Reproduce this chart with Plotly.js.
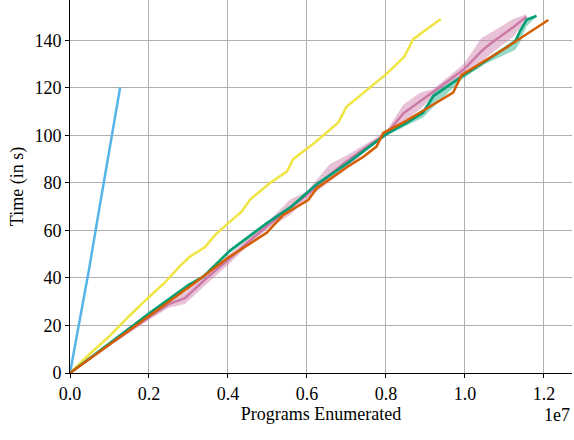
<!DOCTYPE html>
<html>
<head>
<meta charset="utf-8">
<script src="https://cdn.plot.ly/plotly-3.0.1.min.js"></script>
<style>html,body{margin:0;padding:0;background:#fff;}#chart{width:574px;height:440px;}</style>
</head>
<body>
<div id="chart"></div>
<script>
// x values in units of 1e7 programs enumerated, y in seconds
const blueX = [0, 0.025, 0.048, 0.075, 0.100, 0.127];
const blueY = [0, 22, 43.5, 70, 95, 120.3];

const yellowX = [0, 0.05, 0.10, 0.15, 0.20, 0.24, 0.278, 0.304, 0.342, 0.367, 0.40, 0.435, 0.456, 0.506, 0.549, 0.565, 0.62, 0.679, 0.700, 0.75, 0.802, 0.846, 0.869, 0.939];
const yellowY = [0, 8, 15.5, 24, 32, 38, 45, 49, 53, 58, 63, 68, 73, 80, 84.8, 90, 97, 105.4, 112, 119, 126, 133, 140.5, 149];

const greenX = [0, 0.10, 0.20, 0.30, 0.337, 0.405, 0.498, 0.56, 0.625, 0.70, 0.80, 0.85, 0.894, 0.920, 0.992, 1.05, 1.127, 1.139, 1.156, 1.181];
const greenY = [0, 12.5, 25, 37, 40.5, 51.5, 63, 70, 79.5, 88, 100.5, 105, 109.5, 116.5, 124.8, 131, 139.5, 143.7, 148.6, 150.3];
const greenUp = [0, 13, 25.8, 37.8, 41.3, 52.3, 63.8, 70.8, 80.3, 88.8, 101.3, 106, 111, 118, 125.6, 131.8, 140.5, 145, 149.5, 150.8];
const greenLo = [0, 12, 24.2, 36.2, 39.7, 50.7, 62.2, 69.2, 78.7, 87.2, 99.7, 104, 107.5, 112, 123.5, 130, 136, 139, 146, 149.8];

const pinkX = [0, 0.10, 0.20, 0.25, 0.291, 0.346, 0.40, 0.45, 0.50, 0.557, 0.60, 0.658, 0.70, 0.75, 0.80, 0.844, 0.886, 0.920, 0.996, 1.042, 1.063, 1.122, 1.156];
const pinkY = [0, 12, 23.5, 29, 31.5, 40, 47.5, 55, 62, 69.5, 75, 83.5, 89, 95, 100.5, 109.3, 114.2, 118.4, 127.6, 135.5, 138.5, 145.5, 150];
const pinkUp = [0, 12.6, 24.6, 30.5, 34, 42.5, 49.5, 56.5, 63.5, 73, 76.5, 88, 91.5, 96.5, 101.5, 113, 118, 119.5, 130, 141, 143, 149, 151];
const pinkLo = [0, 11.4, 22.4, 27.5, 29, 37.5, 45.5, 53.5, 60.5, 66.5, 73.5, 80.5, 86, 93.5, 99.5, 105.5, 111, 116.5, 125.5, 131, 134, 141.5, 148.5];

const orangeX = [0, 0.10, 0.20, 0.30, 0.40, 0.447, 0.498, 0.540, 0.603, 0.625, 0.70, 0.743, 0.776, 0.793, 0.85, 0.90, 0.970, 0.992, 1.10, 1.211];
const orangeY = [0, 12, 24, 36, 48.5, 53.5, 59, 66.5, 72.8, 77.8, 86.5, 91, 95.3, 101, 106, 111, 118, 125.5, 136.5, 148.6];

const xTicks = [0, 0.2, 0.4, 0.6, 0.8, 1.0, 1.2];
const xTickText = ['0.0', '0.2', '0.4', '0.6', '0.8', '1.0', '1.2'];
const yTicks = [0, 20, 40, 60, 80, 100, 120, 140];

const C = {blue:'#56B4E9', yellow:'#F0E442', green:'#009E73', orange:'#D55E00', pink:'#CC79A7'};

function band(x, up, lo, color) {
  return {x: x.concat(x.slice().reverse()), y: up.concat(lo.slice().reverse()),
    type:'scatter', mode:'lines', fill:'toself', fillcolor:color, line:{width:0}, hoverinfo:'skip', showlegend:false};
}
function line(x, y, color) {
  return {x:x, y:y, type:'scatter', mode:'lines', line:{color:color, width:2.5}, showlegend:false};
}

const data = [
  line(blueX, blueY, C.blue),
  line(yellowX, yellowY, C.yellow),
  band(pinkX, pinkUp, pinkLo, 'rgba(204,121,167,0.45)'),
  line(pinkX, pinkY, C.pink),
  band(greenX, greenUp, greenLo, 'rgba(0,158,115,0.4)'),
  line(greenX, greenY, C.green),
  line(orangeX, orangeY, C.orange)
];

const font = {family:'Liberation Serif, DejaVu Serif, serif', size:18, color:'#000'};

const layout = {
  width:574, height:440,
  margin:{l:70, r:2, t:0, b:67},
  paper_bgcolor:'#fff', plot_bgcolor:'#fff',
  font: font,
  showlegend:false,
  xaxis:{
    range:[0, 1.271], autorange:false,
    tickvals:xTicks, ticktext:xTickText,
    showgrid:true, gridcolor:'#b0b0b0', gridwidth:1,
    zeroline:false, showline:true, linecolor:'#000', linewidth:1,
    ticks:'outside', ticklen:4, tickcolor:'#000',
    tickfont:font,
    title:{text:'Programs Enumerated', font:font, standoff:4}
  },
  yaxis:{
    range:[0, 157], autorange:false,
    tickvals:yTicks,
    showgrid:true, gridcolor:'#b0b0b0', gridwidth:1,
    zeroline:false, showline:true, linecolor:'#000', linewidth:1,
    ticks:'outside', ticklen:4, tickcolor:'#000',
    tickfont:font,
    title:{text:'Time (in s)', font:font, standoff:6}
  },
  annotations:[{text:'1e7', xref:'paper', yref:'paper', x:1, y:-0.08, xanchor:'right', yanchor:'top', showarrow:false, font:font}]
};

Plotly.newPlot('chart', data, layout, {displayModeBar:false, staticPlot:true});
</script>
</body>
</html>
